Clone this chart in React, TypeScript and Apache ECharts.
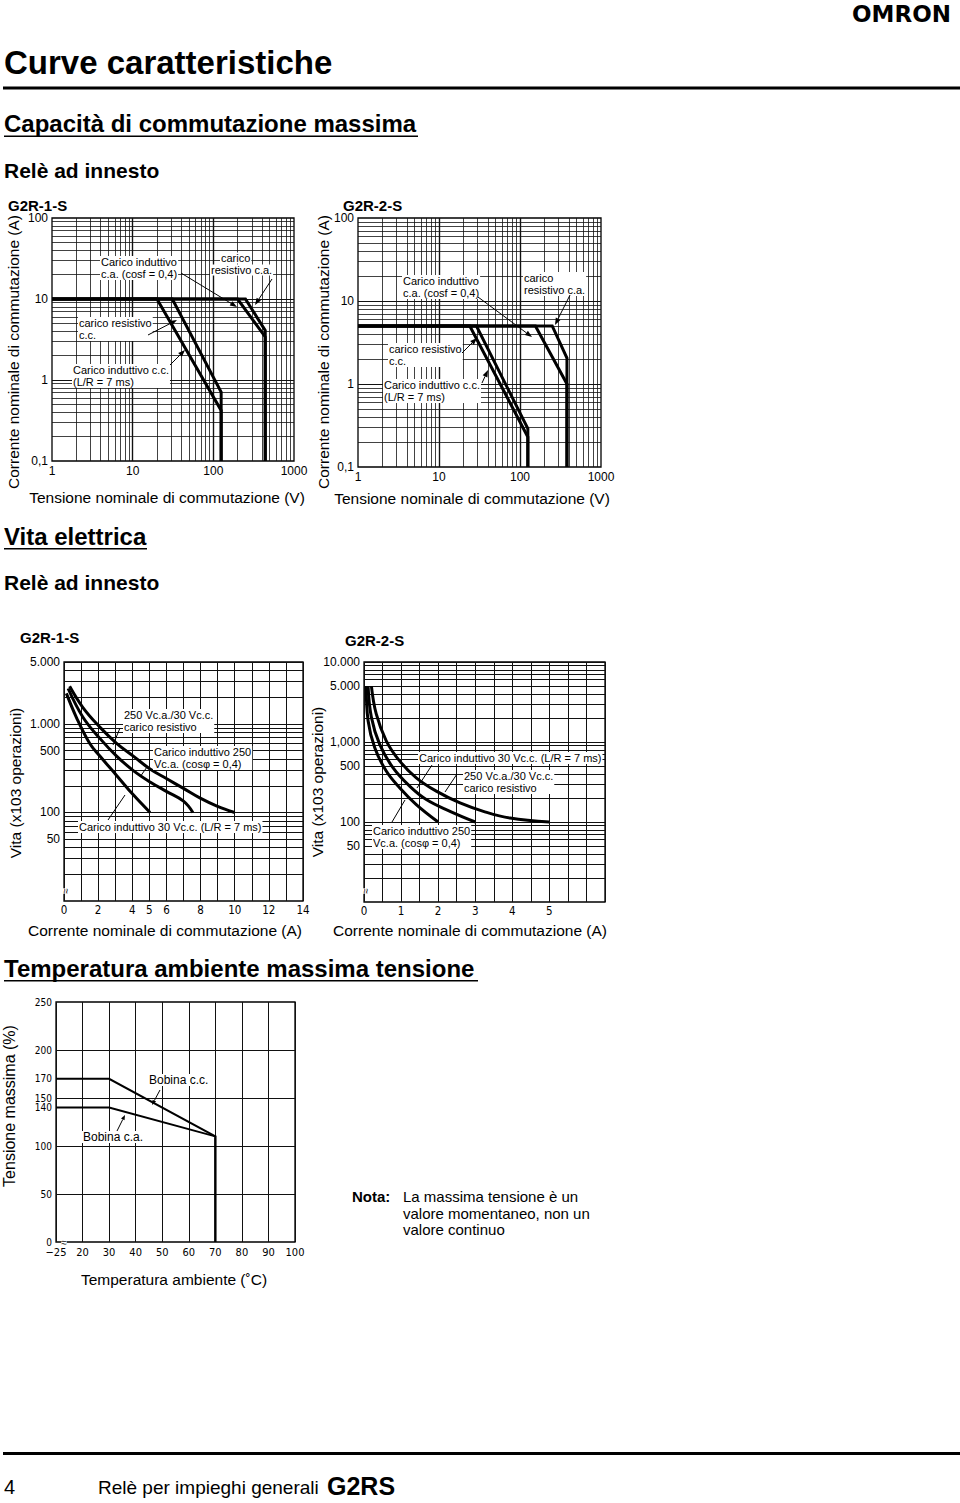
import React, { useEffect, useRef } from 'react';
import * as echarts from 'echarts';

const SANS = '"Liberation Sans", Arial, Helvetica, sans-serif';
const NARROW = '"Liberation Sans Narrow", "DejaVu Sans Condensed", "Liberation Sans", sans-serif';

// ---------- Capacità di commutazione massima: G2R-1-S (V, A) ----------
const c1ResAcV = [1, 250, 440, 440];
const c1ResAcI = [10, 10, 4.1, 0.1];
const c1IndAcV = [1, 200, 440, 440];
const c1IndAcI = [10, 10, 3.4, 0.1];
const c1ResDcV = [1, 31, 125, 125];
const c1ResDcI = [10, 10, 0.71, 0.1];
const c1IndDcV = [1, 20, 125, 125];
const c1IndDcI = [10, 10, 0.42, 0.1];

// ---------- G2R-2-S (V, A) ----------
const c2ResAcV = [1, 250, 380, 380];
const c2ResAcI = [5, 5, 2.05, 0.1];
const c2IndAcV = [1, 155, 380, 380];
const c2IndAcI = [5, 5, 1.0, 0.1];
const c2ResDcV = [1, 29, 125, 125];
const c2ResDcI = [5, 5, 0.29, 0.1];
const c2IndDcV = [1, 24, 125, 125];
const c2IndDcI = [5, 5, 0.23, 0.1];

// ---------- Vita elettrica G2R-1-S (A, x10^3 operazioni) ----------
const l1ResA = [0.33, 1.12, 2.1, 3.08, 4.06, 5.04, 6.02, 7.0, 7.98, 8.96, 10];
const l1ResN = [2660, 1520, 920, 604, 433, 310, 240, 187, 145, 118, 100];
const l1IndAcA = [0.24, 1.12, 2.1, 3.08, 4.06, 5.04, 6.02, 7.0, 7.55];
const l1IndAcN = [2510, 1180, 686, 433, 297, 221, 172, 134, 100];
const l1IndDcA = [0.14, 0.73, 1.5, 2.1, 3.08, 4.06, 5.04];
const l1IndDcN = [2210, 1180, 604, 433, 262, 158, 100];

// ---------- Vita elettrica G2R-2-S ----------
const l2ResA = [0.2, 0.33, 0.6, 0.96, 1.41, 1.95, 2.59, 3.22, 3.94, 5.0];
const l2ResN = [5000, 2240, 1035, 580, 357, 243, 173, 136, 112, 100];
const l2IndDcA = [0.11, 0.2, 0.42, 0.78, 1.23, 1.68, 2.32, 3.0];
const l2IndDcN = [5000, 2030, 940, 478, 281, 191, 136, 100];
const l2IndAcA = [0.06, 0.11, 0.29, 0.6, 0.96, 1.41, 2.0];
const l2IndAcN = [5000, 1845, 850, 433, 268, 165, 100];

// ---------- Temperatura ambiente / massima tensione ----------
const tempC = [-25, 30, 70, 70];
const dcCoilPct = [170, 170, 110, 0];
const acCoilPct = [140, 140, 110, 0];

// ---------- Tick labels ----------
const life1XLabels = [0, 2, 4, 5, 6, 8, 10, 12, 14];
const life2XLabels = [0, 1, 2, 3, 4, 5];
const life1YVals = [5000, 1000, 500, 100, 50];
const life1YText = ['5.000', '1.000', '500', '100', '50'];
const life2YVals = [10000, 5000, 1000, 500, 100, 50];
const life2YText = ['10.000', '5.000', '1,000', '500', '100', '50'];
const tempYVals = [0, 50, 100, 140, 150, 170, 200, 250];
const tempYGrid = [50, 100, 150, 200];
const tempFirstLabel = '\u221225';

function logGridValues(min: number, max: number): number[] {
  const out: number[] = [];
  for (let e = Math.floor(Math.log10(min)); e <= Math.ceil(Math.log10(max)); e++) {
    for (let m = 1; m <= 9; m++) {
      const v = +(m * Math.pow(10, e)).toPrecision(6);
      if (v > min && v < max) out.push(v);
    }
  }
  return out;
}
const isPow10 = (v: number) => Math.abs(Math.log10(v) - Math.round(Math.log10(v))) < 1e-9;
const tempAxisPos = (t: number) => (t < 20 ? 10 : t);

const pairs = (xs: number[], ys: number[]) => xs.map((x, i) => [x, ys[i]]);

function curve(xs: number[], ys: number[], idx: number, width = 3, smooth: number | boolean = false) {
  return {
    type: 'line', xAxisIndex: idx, yAxisIndex: idx, data: pairs(xs, ys),
    symbol: 'none', showSymbol: false, smooth, silent: true, z: 5,
    lineStyle: { color: '#000', width, join: 'miter', cap: 'butt' },
  };
}

function gridSeries(idx: number, items: any[], labelSize = 12, labelFam = SANS) {
  return {
    type: 'line', xAxisIndex: idx, yAxisIndex: idx, data: [], symbol: 'none', silent: true, z: 1,
    markLine: {
      silent: true, symbol: ['none', 'none'], animation: false,
      lineStyle: { color: '#222', width: 0.8, type: 'solid' },
      label: {
        show: true, position: 'start', distance: 4,
        fontSize: labelSize, fontFamily: labelFam, color: '#000',
        formatter: (p: any) => p.name || '',
      },
      emphasis: { disabled: true },
      data: items,
    },
  };
}

const vLine = (v: number, w = 0.8) => ({ xAxis: v, name: '', lineStyle: { color: '#111', width: w, type: 'solid' } });
const hLine = (v: number, w = 0.8, name = '') => ({ yAxis: v, name, lineStyle: { color: '#111', width: w, type: 'solid' } });
const hLabelOnly = (v: number, name: string) => ({ yAxis: v, name, lineStyle: { color: 'rgba(0,0,0,0)', width: 0.1, type: 'solid' } });

// ---------- graphic helpers ----------
function txt(text: string, x: number, y: number, size: number, o: any = {}) {
  const style: any = {
    text, x: 0, y: 0, fill: '#000',
    font: `${o.bold ? 'bold ' : ''}${size}px ${o.family || SANS}`,
    align: o.align || 'left', verticalAlign: o.va || 'middle',
    textAlign: o.align || 'left', textVerticalAlign: o.va || 'middle',
  };
  if (o.lh) style.lineHeight = o.lh;
  if (o.bg) { style.backgroundColor = o.bg; style.padding = o.pad || [0, 1]; }
  return { type: 'text', x, y, z: 50, silent: true, rotation: o.rot || 0, style };
}
function seg(x1: number, y1: number, x2: number, y2: number, w = 1) {
  return { type: 'line', z: 51, silent: true, shape: { x1, y1, x2, y2 }, style: { stroke: '#000', lineWidth: w } };
}
function arrow(x1: number, y1: number, x2: number, y2: number, L = 7, W = 2.6) {
  const a = Math.atan2(y2 - y1, x2 - x1);
  const bx = x2 - L * Math.cos(a), by = y2 - L * Math.sin(a);
  return [
    seg(x1, y1, bx, by),
    {
      type: 'polygon', z: 51, silent: true,
      shape: { points: [[x2, y2], [bx + W * Math.sin(a), by - W * Math.cos(a)], [bx - W * Math.sin(a), by + W * Math.cos(a)]] },
      style: { fill: '#000' },
    },
  ];
}
const rule = (x: number, y: number, w: number, h: number) => ({ type: 'rect', z: 40, silent: true, shape: { x, y, width: w, height: h }, style: { fill: '#000' } });
const note = (text: string, x: number, top: number, size = 11) => txt(text, x, top, size, { va: 'top', lh: 12, bg: '#fff', pad: [0, 1] });
const brk = (x: number, y: number, rot = 0) => txt('\u2248', x, y, 10, { align: 'center', rot, bg: '#fff', pad: [0, 0] });

function buildOption() {
  const axisLbl = { fontSize: 12, fontFamily: SANS, color: '#000' };
  const hidden = { axisLine: { show: false }, axisTick: { show: false } };

  const logV = logGridValues(1, 1000).concat([10, 100]);
  const logI = logGridValues(0.1, 100).concat([1, 10]);
  const grid1Items = [
    ...logV.map((v) => vLine(v, isPow10(v) ? 1.2 : 0.8)),
    ...logI.map((v) => hLine(v, isPow10(v) ? 1.2 : 0.8)),
  ];

  const lifeGrid = (min: number, max: number, vals: number[], texts: string[]) =>
    logGridValues(min, max).concat([100, 1000]).filter((v) => !vals.includes(v)).map((v) => hLine(v, 1))
      .concat(vals.map((v, i) => hLine(v, 1, texts[i])));

  const life1Items = lifeGrid(10, 5000, life1YVals, life1YText);
  const life2Items = lifeGrid(10, 10000, life2YVals, life2YText);
  const tempItems = tempYVals.map((v) => (tempYGrid.includes(v) ? hLine(v, 1, String(v)) : hLabelOnly(v, String(v))));

  const gridBox = { show: true, borderColor: '#000', borderWidth: 1.3, backgroundColor: 'transparent' };

  return {
    animation: false,
    backgroundColor: '#fff',
    grid: [
      { ...gridBox, left: 52, top: 218, width: 242, height: 243 },
      { ...gridBox, left: 358, top: 218, width: 243, height: 249 },
      { ...gridBox, left: 64, top: 662, width: 239, height: 239 },
      { ...gridBox, left: 364, top: 662, width: 241, height: 240 },
      { ...gridBox, left: 56, top: 1002, width: 239, height: 240 },
    ],
    xAxis: [
      { type: 'log', logBase: 10, gridIndex: 0, min: 1, max: 1000, ...hidden, splitLine: { show: false }, axisLabel: { ...axisLbl, margin: 4, formatter: (v: number) => String(v) } },
      { type: 'log', logBase: 10, gridIndex: 1, min: 1, max: 1000, ...hidden, splitLine: { show: false }, axisLabel: { ...axisLbl, margin: 4, formatter: (v: number) => String(v) } },
      {
        type: 'value', gridIndex: 2, min: 0, max: 14, interval: 1, ...hidden,
        splitLine: { show: true, lineStyle: { color: '#111', width: 1 } },
        axisLabel: { fontSize: 11.5, fontFamily: NARROW, color: '#000', margin: 3, formatter: (v: number) => (life1XLabels.includes(v) ? String(v) : '') },
      },
      {
        type: 'value', gridIndex: 3, min: 0, max: 6.5, interval: 0.5, ...hidden,
        splitLine: { show: true, lineStyle: { color: '#111', width: 1 } },
        axisLabel: { fontSize: 11.5, fontFamily: NARROW, color: '#000', margin: 3, formatter: (v: number) => (life2XLabels.includes(v) ? String(v) : '') },
      },
      {
        type: 'value', gridIndex: 4, min: 10, max: 100, interval: 10, ...hidden,
        splitLine: { show: true, lineStyle: { color: '#111', width: 1 } },
        axisLabel: { fontSize: 11, fontFamily: NARROW, color: '#000', margin: 5, formatter: (v: number) => (v === 10 ? tempFirstLabel : String(v)) },
      },
    ],
    yAxis: [
      { type: 'log', logBase: 10, gridIndex: 0, min: 0.1, max: 100, ...hidden, splitLine: { show: false }, axisLabel: { ...axisLbl, margin: 4, formatter: (v: number) => String(v).replace('.', ',') } },
      { type: 'log', logBase: 10, gridIndex: 1, min: 0.1, max: 100, ...hidden, splitLine: { show: false }, axisLabel: { ...axisLbl, margin: 4, formatter: (v: number) => String(v).replace('.', ',') } },
      { type: 'log', logBase: 10, gridIndex: 2, min: 10, max: 5000, ...hidden, splitLine: { show: false }, axisLabel: { show: false } },
      { type: 'log', logBase: 10, gridIndex: 3, min: 10, max: 10000, ...hidden, splitLine: { show: false }, axisLabel: { show: false } },
      { type: 'value', gridIndex: 4, min: 0, max: 250, interval: 50, ...hidden, splitLine: { show: false }, axisLabel: { show: false } },
    ],
    series: [
      gridSeries(0, grid1Items),
      gridSeries(1, grid1Items),
      gridSeries(2, life1Items, 12),
      gridSeries(3, life2Items, 12),
      gridSeries(4, tempItems, 10, NARROW),
      curve(c1ResAcV, c1ResAcI, 0),
      curve(c1IndAcV, c1IndAcI, 0),
      curve(c1ResDcV, c1ResDcI, 0),
      curve(c1IndDcV, c1IndDcI, 0),
      curve(c2ResAcV, c2ResAcI, 1),
      curve(c2IndAcV, c2IndAcI, 1),
      curve(c2ResDcV, c2ResDcI, 1),
      curve(c2IndDcV, c2IndDcI, 1),
      curve(l1ResA, l1ResN, 2, 3, 0.4),
      curve(l1IndAcA, l1IndAcN, 2, 3, 0.4),
      curve(l1IndDcA, l1IndDcN, 2, 3, 0.4),
      curve(l2ResA, l2ResN, 3, 3, 0.4),
      curve(l2IndDcA, l2IndDcN, 3, 3, 0.4),
      curve(l2IndAcA, l2IndAcN, 3, 3, 0.4),
      curve(tempC.map(tempAxisPos), dcCoilPct, 4, 2),
      curve(tempC.map(tempAxisPos), acCoilPct, 4, 2),
    ],
    graphic: {
      elements: [
        // header
        { type: 'text', x: 852, y: 14, z: 50, silent: true, style: { text: 'OMRON', font: `bold 23px "DejaVu Sans", sans-serif`, fill: '#000', align: 'left', verticalAlign: 'middle', textAlign: 'left', textVerticalAlign: 'middle' } },
        txt('Curve caratteristiche', 4, 62, 33, { bold: true }),
        rule(3, 86.5, 957, 3),
        txt('Capacità di commutazione massima', 4, 123, 24, { bold: true }),
        rule(4, 135.5, 414, 1.5),
        txt('Relè ad innesto', 4, 170.5, 21, { bold: true }),

        // chart 1 texts
        txt('G2R-1-S', 8, 205, 15, { bold: true }),
        txt('Corrente nominale di commutazione (A)', 13, 352, 15.5, { rot: Math.PI / 2, align: 'center' }),
        txt('Tensione nominale di commutazione (V)', 167, 497, 15.5, { align: 'center' }),
        note('Carico induttivo\nc.a. (cosf = 0,4)', 100, 256),
        ...arrow(181, 273, 237, 307),
        txt('carico', 220, 258, 11, { bg: '#fff' }),
        txt('resistivo c.a.', 210, 270, 11, { bg: '#fff' }),
        ...arrow(272, 279, 255, 305),
        note('carico resistivo\nc.c.', 78, 317),
        ...arrow(148, 335, 177, 320),
        note('Carico induttivo c.c.\n(L/R = 7 ms)', 72, 364),
        ...arrow(170, 365, 185, 350),

        // chart 2 texts
        txt('G2R-2-S', 343, 205, 15, { bold: true }),
        txt('Corrente nominale di commutazione (A)', 323, 352, 15.5, { rot: Math.PI / 2, align: 'center' }),
        txt('Tensione nominale di commutazione (V)', 472, 498, 15.5, { align: 'center' }),
        note('Carico induttivo\nc.a. (cosf = 0,4)', 402, 275),
        ...arrow(478, 297, 532, 337),
        note('carico\nresistivo c.a.', 523, 272),
        ...arrow(570, 295, 555, 325),
        note('carico resistivo\nc.c.', 388, 343),
        ...arrow(462, 353, 477, 338),
        note('Carico induttivo c.c.\n(L/R = 7 ms)', 383, 379),
        ...arrow(482, 383, 488, 370),

        // section 2
        txt('Vita elettrica', 4, 536, 24, { bold: true }),
        rule(4, 548, 143, 1.5),
        txt('Relè ad innesto', 4, 582, 21, { bold: true }),

        // chart 3 texts
        txt('G2R-1-S', 20, 637, 15, { bold: true }),
        txt('Vita (x103 operazioni)', 15, 783, 15.5, { rot: Math.PI / 2, align: 'center' }),
        txt('Corrente nominale di commutazione (A)', 165, 930, 15.5, { align: 'center' }),
        note('250 Vc.a./30 Vc.c.\ncarico resistivo', 123, 709),
        seg(120, 728, 113, 745),
        note('Carico induttivo 250\nVc.a. (cos\u03c6 = 0,4)', 153, 746),
        seg(147, 767, 140, 777),
        note('Carico induttivo 30 Vc.c. (L/R = 7 ms)', 78, 821),
        seg(108, 820, 125, 795),
        brk(65, 891, Math.PI / 2),

        // chart 4 texts
        txt('G2R-2-S', 345, 640, 15, { bold: true }),
        txt('Vita (x103 operazioni)', 317, 782, 15.5, { rot: Math.PI / 2, align: 'center' }),
        txt('Corrente nominale di commutazione (A)', 470, 930, 15.5, { align: 'center' }),
        note('Carico induttivo 30 Vc.c. (L/R = 7 ms)', 418, 752),
        seg(432, 765, 417, 788),
        note('250 Vc.a./30 Vc.c.\ncarico resistivo', 463, 770),
        seg(457, 774, 445, 792),
        note('Carico induttivo 250\nVc.a. (cos\u03c6 = 0,4)', 372, 825),
        seg(392, 822, 405, 800),
        brk(365, 891, Math.PI / 2),

        // section 3
        txt('Temperatura ambiente massima tensione', 4, 968.5, 24, { bold: true }),
        rule(4, 980, 474, 1.5),
        txt('Tensione massima (%)', 9, 1106, 16, { rot: Math.PI / 2, align: 'center' }),
        txt('Temperatura ambiente (\u02daC)', 174, 1279, 15.5, { align: 'center' }),
        txt('Bobina c.c.', 148, 1080, 12, { bg: '#fff' }),
        ...arrow(160, 1090, 152, 1105, 5, 2),
        txt('Bobina c.a.', 82, 1137, 12, { bg: '#fff' }),
        ...arrow(117, 1131, 125, 1115, 5, 2),
        brk(64, 1242, 0),
        txt('Nota:', 352, 1196, 15, { bold: true }),
        txt('La massima tensione è un', 403, 1196, 15),
        txt('valore momentaneo, non un', 403, 1213, 15),
        txt('valore continuo', 403, 1229, 15),

        // footer
        rule(3, 1452, 957, 3),
        txt('4', 4, 1487, 20),
        txt('Relè per impieghi generali', 98, 1487, 19),
        txt('G2RS', 327, 1486, 25, { bold: true }),
      ],
    },
  };
}

export default function App() {
  const ref = useRef<HTMLDivElement>(null);
  useEffect(() => {
    document.body.style.margin = '0';
    if (!ref.current) return;
    const chart = echarts.init(ref.current, null, { renderer: 'svg' });
    chart.setOption(buildOption() as any);
    return () => chart.dispose();
  }, []);
  return <div ref={ref} style={{ position: 'absolute', left: 0, top: 0, width: 960, height: 1503, background: '#fff' }} />;
}
